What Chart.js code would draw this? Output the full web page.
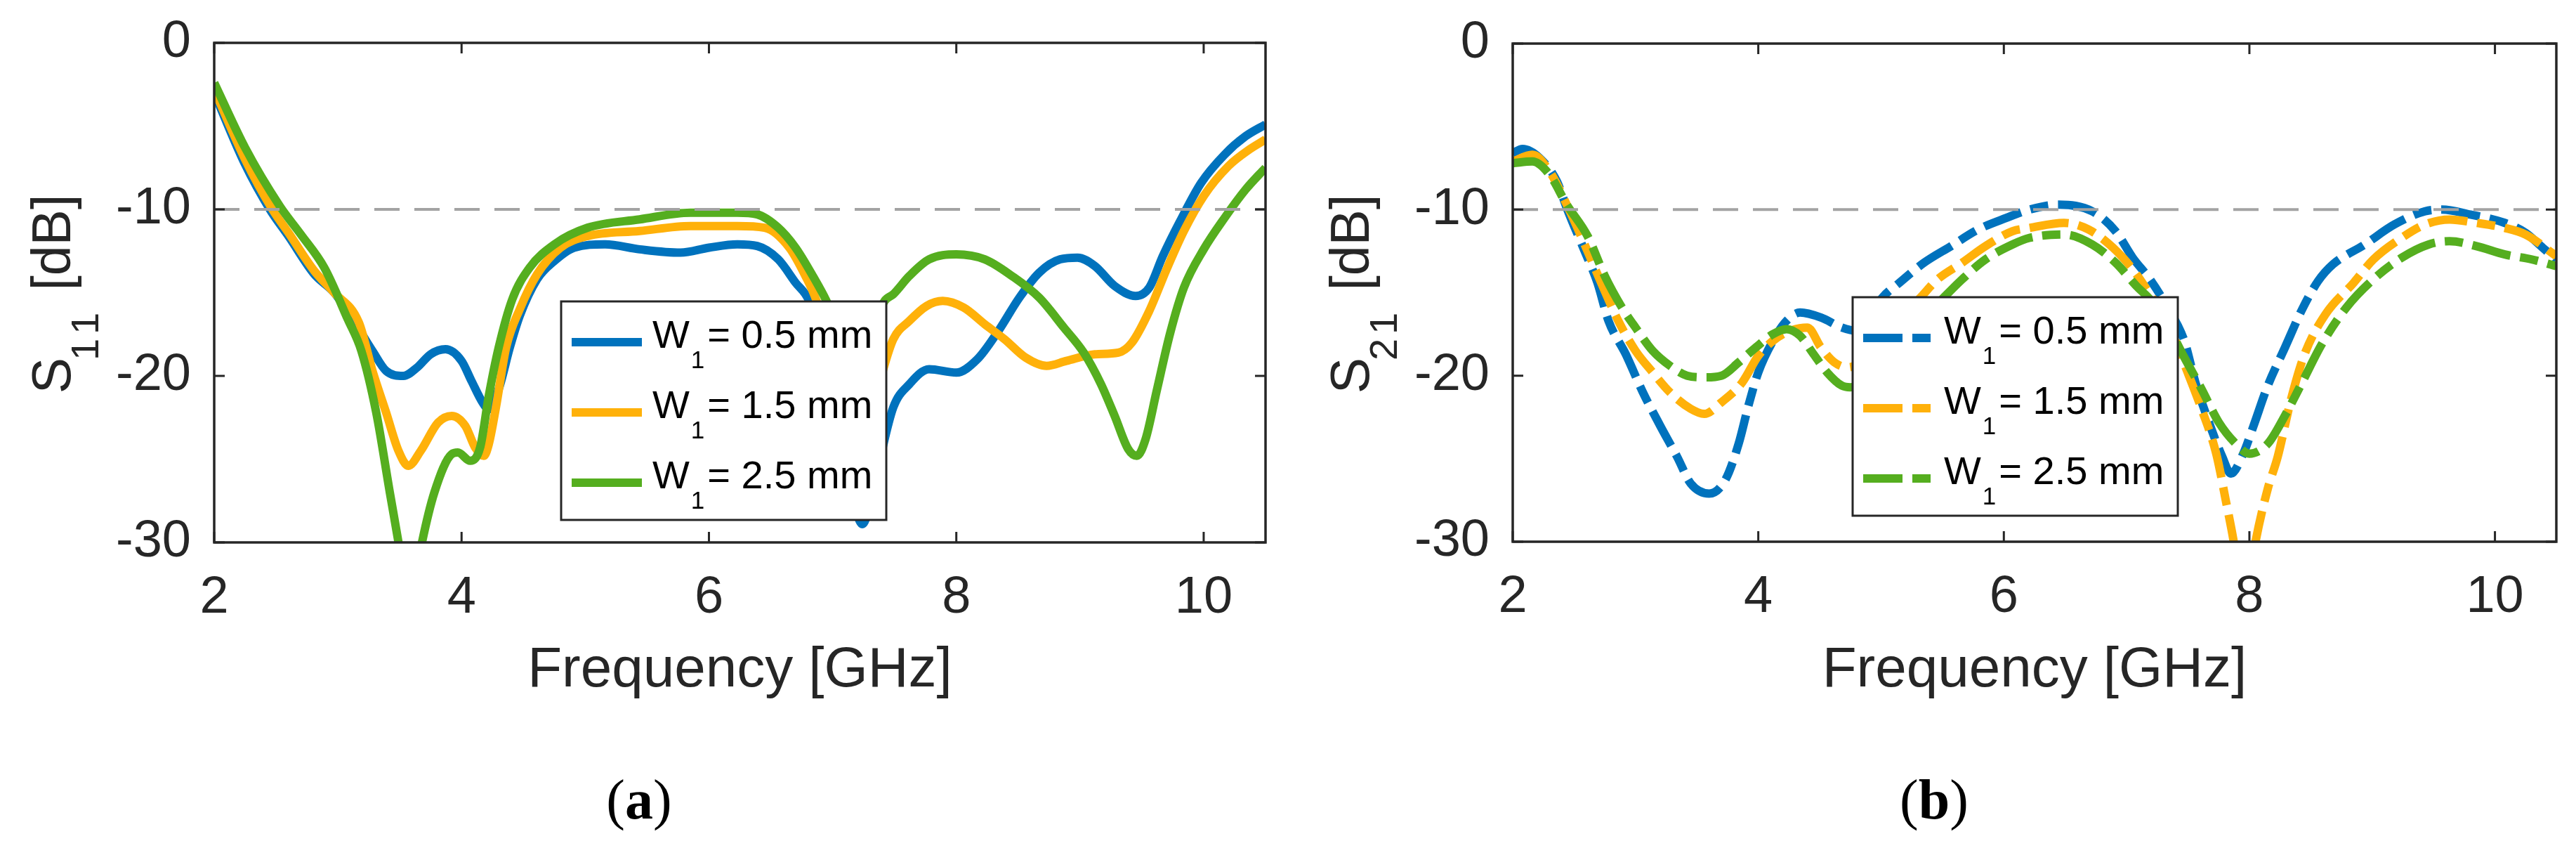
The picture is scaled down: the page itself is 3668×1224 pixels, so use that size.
<!DOCTYPE html>
<html>
<head>
<meta charset="utf-8">
<title>S11 / S21 vs frequency</title>
<script src="https://cdn.jsdelivr.net/npm/chart.js@4.4.1/dist/chart.umd.min.js"></script>
<style>
  html, body { margin: 0; padding: 0; background: #fff; }
  #wrap { display: flex; width: 3668px; height: 1224px; }
  .panel { position: relative; width: 1834px; height: 1224px; }
</style>
</head>
<body>
<div id="wrap">
  <div class="panel"><canvas id="s11"></canvas></div>
  <div class="panel"><canvas id="s21"></canvas></div>
</div>
<script>
// axis ticks and the -10 dB reference line
const xTicks = [2, 4, 6, 8, 10];
const yTicks = [0, -10, -20, -30];
const refFreq = [2, 10.5];
const refLevel = [-10, -10];
const widthLabels = ['0.5 mm', '1.5 mm', '2.5 mm'];

// S11
const s11Freq05 = [2.0,2.25,2.45,2.6,2.81,2.97,3.17,3.28,3.39,3.53,3.64,3.75,3.87,4.0,4.08,4.17,4.22,4.3,4.39,4.47,4.61,4.75,4.91,5.16,5.44,5.77,6.0,6.23,6.39,6.56,6.7,6.81,6.95,7.12,7.24,7.35,7.49,7.62,7.78,8.0,8.17,8.34,8.51,8.67,8.84,8.98,9.12,9.28,9.45,9.56,9.67,9.81,9.98,10.17,10.34,10.5];
const s11Db05   = [-3.0,-7.3,-10.0,-11.6,-13.9,-15.0,-17.2,-18.5,-19.7,-20.0,-19.5,-18.7,-18.4,-19.1,-20.3,-21.6,-22.0,-20.8,-18.3,-16.4,-14.2,-13.1,-12.3,-12.1,-12.4,-12.6,-12.3,-12.1,-12.2,-13.0,-14.4,-15.5,-19.0,-25.5,-28.9,-26.0,-21.9,-20.5,-19.6,-19.8,-19.0,-17.3,-15.3,-13.8,-13.0,-12.9,-13.4,-14.6,-15.2,-14.7,-12.8,-10.7,-8.4,-6.7,-5.6,-4.9];

const s11Freq15 = [2.0,2.25,2.47,2.6,2.81,2.97,3.17,3.28,3.39,3.49,3.57,3.67,3.81,3.92,4.03,4.11,4.18,4.22,4.28,4.36,4.47,4.61,4.8,5.02,5.44,5.85,6.23,6.45,6.65,6.78,6.87,7.0,7.2,7.35,7.49,7.62,7.76,7.89,8.06,8.23,8.39,8.56,8.73,8.89,9.12,9.31,9.42,9.56,9.7,9.84,10.0,10.2,10.37,10.5];
const s11Db15   = [-2.8,-7.0,-10.0,-11.4,-13.7,-15.0,-16.8,-19.7,-22.2,-24.5,-25.4,-24.5,-22.8,-22.4,-23.0,-24.3,-24.8,-24.1,-21.8,-18.3,-16.0,-13.9,-12.3,-11.6,-11.3,-11.0,-11.0,-11.1,-12.3,-14.0,-15.5,-19.0,-23.5,-21.0,-17.8,-16.7,-15.8,-15.5,-15.9,-16.9,-17.8,-18.9,-19.4,-19.1,-18.7,-18.6,-18.0,-16.1,-13.6,-11.3,-9.2,-7.4,-6.4,-5.8];

const s11Freq25 = [2.0,2.25,2.53,2.7,2.89,3.08,3.19,3.31,3.42,3.49,3.58,3.68,3.78,3.92,3.97,4.07,4.15,4.22,4.3,4.41,4.55,4.75,5.02,5.44,5.85,6.23,6.39,6.56,6.7,6.84,6.95,7.18,7.42,7.49,7.62,7.78,8.0,8.23,8.45,8.67,8.87,9.03,9.17,9.28,9.39,9.46,9.53,9.62,9.73,9.84,10.0,10.17,10.34,10.5];
const s11Db25   = [-2.4,-6.3,-9.8,-11.5,-13.5,-16.6,-18.5,-22.2,-27.0,-30.0,-34.0,-30.0,-27.0,-24.7,-24.6,-25.1,-24.3,-21.2,-18.3,-15.4,-13.5,-12.1,-11.1,-10.6,-10.2,-10.2,-10.3,-11.1,-12.3,-14.0,-15.5,-19.5,-15.5,-15.1,-14.0,-13.0,-12.7,-13.0,-14.0,-15.3,-17.1,-18.6,-20.5,-22.4,-24.4,-24.8,-23.8,-20.9,-17.4,-14.7,-12.4,-10.5,-8.8,-7.5];

// S21
const s21Freq05 = [2.0,2.08,2.22,2.36,2.44,2.58,2.69,2.78,2.92,3.06,3.2,3.34,3.45,3.6,3.73,3.84,3.92,4.0,4.12,4.23,4.34,4.51,4.68,4.8,4.9,5.01,5.15,5.35,5.57,5.79,6.02,6.21,6.45,6.72,6.91,7.05,7.19,7.31,7.47,7.56,7.67,7.78,7.85,7.95,8.03,8.15,8.29,8.43,8.56,8.68,8.94,9.18,9.43,9.57,9.8,10.08,10.25,10.39,10.5];
const s21Db05   = [-6.6,-6.35,-6.9,-8.3,-9.9,-12.4,-14.4,-16.7,-18.7,-21.0,-23.0,-24.9,-26.5,-27.1,-26.3,-24.1,-21.8,-19.8,-17.9,-16.7,-16.2,-16.5,-17.1,-17.3,-16.5,-15.3,-14.4,-13.2,-12.2,-11.2,-10.5,-10.0,-9.7,-10.1,-11.3,-12.9,-14.2,-15.6,-17.9,-20.4,-22.8,-24.9,-25.9,-24.7,-23.1,-20.6,-18.3,-16.0,-14.3,-13.3,-12.1,-10.9,-10.1,-10.0,-10.3,-10.8,-11.4,-12.3,-13.0];

const s21Freq15 = [2.0,2.16,2.3,2.44,2.58,2.72,2.86,3.0,3.14,3.28,3.45,3.56,3.7,3.87,4.0,4.12,4.26,4.4,4.51,4.62,4.73,4.9,5.1,5.32,5.46,5.66,5.85,6.07,6.21,6.49,6.69,6.89,7.05,7.19,7.33,7.47,7.61,7.73,7.81,7.87,7.96,8.05,8.15,8.23,8.34,8.45,8.62,8.85,9.01,9.24,9.43,9.63,9.85,10.08,10.25,10.5];
const s21Db15   = [-7.1,-6.7,-7.7,-9.7,-12.0,-14.4,-16.7,-18.5,-19.8,-21.0,-22.0,-22.3,-21.6,-20.4,-18.8,-17.9,-17.3,-17.1,-18.3,-19.2,-19.5,-18.8,-17.0,-15.3,-14.2,-13.2,-12.2,-11.3,-11.1,-10.8,-11.2,-12.3,-13.6,-15.1,-16.7,-19.3,-22.0,-24.7,-27.6,-29.9,-34.0,-30.0,-26.8,-24.9,-21.4,-18.7,-16.3,-14.4,-13.0,-11.7,-10.9,-10.6,-10.8,-11.1,-11.5,-12.8];

const s21Freq25 = [2.0,2.16,2.3,2.44,2.61,2.75,2.89,3.0,3.14,3.28,3.42,3.56,3.7,3.84,3.98,4.12,4.23,4.34,4.45,4.56,4.68,4.75,5.0,5.25,5.51,5.66,5.85,6.07,6.21,6.49,6.72,6.91,7.08,7.19,7.3,7.47,7.61,7.75,7.89,8.0,8.15,8.29,8.43,8.59,8.79,9.01,9.24,9.46,9.63,9.85,10.08,10.3,10.5];
const s21Db25   = [-7.2,-7.1,-7.9,-9.7,-11.6,-14.0,-15.9,-17.1,-18.5,-19.4,-20.0,-20.1,-20.0,-19.2,-18.3,-17.5,-17.2,-17.6,-18.7,-19.8,-20.6,-20.7,-19.5,-17.3,-15.3,-14.2,-13.0,-12.1,-11.7,-11.5,-12.1,-13.2,-14.6,-15.4,-16.5,-18.9,-20.8,-22.8,-24.1,-24.7,-24.1,-22.4,-20.4,-18.1,-15.9,-14.2,-12.9,-12.1,-11.9,-12.2,-12.7,-13.0,-13.4];

const colors = ['#0072BD', '#FFB10A', '#55AE1F'];
const axisColor = '#262626';
const sans = '"Liberation Sans", Arial, sans-serif';
const serif = '"Liberation Serif", "Times New Roman", serif';

Chart.defaults.font.family = sans;

function pts(freq, db) {
    return freq.map((f, i) => ({x: f, y: db[i]}));
}

// draws the MATLAB-like box, inward ticks, subscripted y title, legend and caption
const matlabLook = {
    id: 'matlabLook',
    afterDraw(chart, args, o) {
        const ctx = chart.ctx;
        const a = chart.chartArea;
        const xs = chart.scales.x;
        const ys = chart.scales.y;
        ctx.save();

        // box
        ctx.strokeStyle = axisColor;
        ctx.lineWidth = 3.5;
        ctx.setLineDash([]);
        ctx.strokeRect(a.left, a.top, a.right - a.left, a.bottom - a.top);

        // inward tick marks on all four sides
        ctx.lineWidth = 3;
        ctx.beginPath();
        xTicks.forEach(v => {
            const px = xs.getPixelForValue(v);
            ctx.moveTo(px, a.bottom); ctx.lineTo(px, a.bottom - 15);
            ctx.moveTo(px, a.top); ctx.lineTo(px, a.top + 15);
        });
        yTicks.forEach(v => {
            const py = ys.getPixelForValue(v);
            ctx.moveTo(a.left, py); ctx.lineTo(a.left + 15, py);
            ctx.moveTo(a.right, py); ctx.lineTo(a.right - 15, py);
        });
        ctx.stroke();

        // y title, rotated, with subscript
        ctx.save();
        ctx.translate(a.left - 205, (a.top + a.bottom) / 2 + 2);
        ctx.rotate(-Math.PI / 2);
        ctx.fillStyle = axisColor;
        ctx.textAlign = 'left';
        ctx.textBaseline = 'alphabetic';
        const mainFont = '77px ' + sans;
        const subFont = '56px ' + sans;
        ctx.font = mainFont;
        const wMain = ctx.measureText(o.yMain).width;
        const wRest = ctx.measureText(o.yRest).width;
        const subStep = 37;
        const wSub = o.ySub.length * subStep;
        let tx = -(wMain + wSub + wRest) / 2;
        ctx.fillText(o.yMain, tx, 0);
        tx += wMain;
        ctx.font = subFont;
        for (const ch of o.ySub) {
            ctx.fillText(ch, tx - 4, 40);
            tx += subStep;
        }
        ctx.font = mainFont;
        ctx.fillText(o.yRest, tx, 0);
        ctx.restore();

        // legend
        const lx = a.left + o.legendDx;
        const ly = a.top + o.legendDy;
        const lw = 463, lh = 311;
        ctx.fillStyle = '#fff';
        ctx.fillRect(lx, ly, lw, lh);
        ctx.strokeStyle = axisColor;
        ctx.lineWidth = 3;
        ctx.strokeRect(lx, ly, lw, lh);
        chart.data.datasets.filter(d => d.sizeLabel).forEach((d, i) => {
            const yy = ly + 58 + i * 100;
            ctx.save();
            ctx.strokeStyle = d.borderColor;
            ctx.lineWidth = d.borderWidth;
            ctx.lineCap = 'butt';
            ctx.setLineDash(d.borderDash || []);
            ctx.beginPath();
            ctx.moveTo(lx + 15, yy);
            ctx.lineTo(lx + 115, yy);
            ctx.stroke();
            ctx.restore();

            ctx.fillStyle = '#000';
            ctx.textAlign = 'left';
            ctx.textBaseline = 'alphabetic';
            let x = lx + 130;
            ctx.font = '56px ' + sans;
            ctx.fillText('W', x, yy + 8);
            x += ctx.measureText('W').width + 2;
            ctx.font = '35px ' + sans;
            ctx.fillText('1', x, yy + 37);
            x += ctx.measureText('1').width + 4;
            ctx.font = '56px ' + sans;
            ctx.fillText('= ' + d.sizeLabel, x, yy + 8);
        });

        // caption "(a)" / "(b)"
        ctx.fillStyle = '#000';
        ctx.textBaseline = 'alphabetic';
        ctx.textAlign = 'left';
        const regular = '80px ' + serif;
        const bold = 'bold 80px ' + serif;
        ctx.font = regular;
        const wp1 = ctx.measureText('(').width;
        const wp2 = ctx.measureText(')').width;
        ctx.font = bold;
        const wl = ctx.measureText(o.caption).width;
        let cx = o.captionX - (wp1 + wl + wp2) / 2;
        const cy = 1165;
        ctx.font = regular;
        ctx.fillText('(', cx, cy);
        cx += wp1;
        ctx.font = bold;
        ctx.fillText(o.caption, cx, cy);
        cx += wl;
        ctx.font = regular;
        ctx.fillText(')', cx, cy);

        ctx.restore();
    }
};

function makeChart(id, series, dash, look) {
    const datasets = [{
        label: '-10 dB',
        data: pts(refFreq, refLevel),
        borderColor: '#A3A3A3',
        borderWidth: 4,
        borderDash: [36, 21],
        order: 0,
        tension: 0
    }];
    series.forEach((s, i) => {
        datasets.push({
            label: 'W1 = ' + widthLabels[i],
            sizeLabel: widthLabels[i],
            data: pts(s[0], s[1]),
            borderColor: colors[i],
            borderWidth: 12,
            borderDash: dash,
            order: 3 - i,
            tension: 0.4,
            cubicInterpolationMode: 'monotone'
        });
    });

    return new Chart(document.getElementById(id), {
        type: 'line',
        data: {datasets: datasets},
        options: {
            responsive: true,
            maintainAspectRatio: false,
            devicePixelRatio: 1,
            animation: false,
            events: [],
            layout: {padding: {left: 0, right: look.padRight, top: look.padTop, bottom: 0}},
            elements: {point: {radius: 0}, line: {borderCapStyle: 'butt', fill: false}},
            datasets: {line: {clip: 0}},
            plugins: {
                legend: {display: false},
                tooltip: {enabled: false},
                matlabLook: look
            },
            scales: {
                x: {
                    type: 'linear',
                    min: 2,
                    max: 10.5,
                    afterBuildTicks: s => { s.ticks = xTicks.map(v => ({value: v})); },
                    afterFit: s => {
                        s.height = 1224 - look.plotBottom;
                        s.paddingLeft = 0;
                        s.paddingRight = 0;
                    },
                    grid: {display: false, drawTicks: false, tickLength: 0},
                    border: {display: false},
                    ticks: {
                        padding: 35,
                        maxRotation: 0,
                        color: axisColor,
                        font: {size: 74}
                    },
                    title: {
                        display: true,
                        text: 'Frequency [GHz]',
                        color: axisColor,
                        font: {size: 80},
                        padding: {top: 0, bottom: 221}
                    }
                },
                y: {
                    type: 'linear',
                    min: -30,
                    max: 0,
                    afterBuildTicks: s => { s.ticks = yTicks.map(v => ({value: v})); },
                    afterFit: s => {
                        s.width = look.yAxisWidth;
                        s.paddingTop = 0;
                        s.paddingBottom = 0;
                    },
                    grid: {display: false, drawTicks: false, tickLength: 0},
                    border: {display: false},
                    ticks: {
                        padding: 33,
                        color: axisColor,
                        font: {size: 74}
                    }
                }
            }
        },
        plugins: [matlabLook]
    });
}

makeChart('s11', [
    [s11Freq05, s11Db05],
    [s11Freq15, s11Db15],
    [s11Freq25, s11Db25]
], [], {
    yMain: 'S', ySub: '11', yRest: ' [dB]',
    legendDx: 494, legendDy: 368,
    caption: 'a', captionX: 910,
    yAxisWidth: 305, padTop: 61, padRight: 32, plotBottom: 772
});

makeChart('s21', [
    [s21Freq05, s21Db05],
    [s21Freq15, s21Db15],
    [s21Freq25, s21Db25]
], [56, 14, 26, 14], {
    yMain: 'S', ySub: '21', yRest: ' [dB]',
    legendDx: 484, legendDy: 361,
    caption: 'b', captionX: 920,
    yAxisWidth: 320, padTop: 62, padRight: 28, plotBottom: 771
});
</script>
</body>
</html>
